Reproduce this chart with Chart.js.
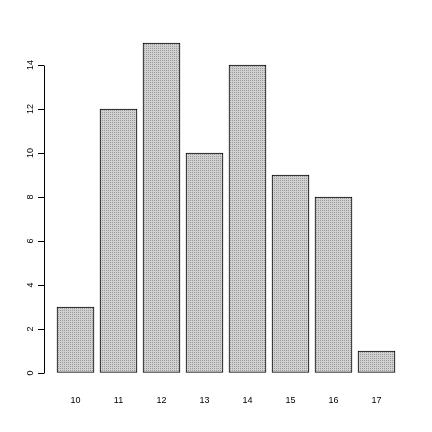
<!DOCTYPE html>
<html>
<head>
<meta charset="utf-8">
<script src="https://cdn.jsdelivr.net/npm/chart.js@4.4.0/dist/chart.umd.min.js"></script>
<style>
  html, body { margin: 0; padding: 0; background: #ffffff; }
  #wrap { width: 432px; height: 432px; }
</style>
</head>
<body>
<div id="wrap"><canvas id="counts" width="432" height="432"></canvas></div>
<script>
var categories = [10, 11, 12, 13, 14, 15, 16, 17];
var counts = [3, 12, 15, 10, 14, 9, 8, 1];
var yTicks = [0, 2, 4, 6, 8, 10, 12, 14];

var barplot = {
    // grey dotted fill like the R device
    pattern: function () {
        var c = document.createElement("canvas");
        c.width = 2;
        c.height = 2;
        var ctx = c.getContext("2d");
        ctx.fillStyle = "#d0d0d0";
        ctx.fillRect(0, 0, 2, 2);
        ctx.fillStyle = "#9c9c9c";
        ctx.fillRect(0, 0, 1, 1);
        return ctx.createPattern(c, "repeat");
    },

    // R style axis line: only from first to last tick
    axisLine: {
        id: "axisLine",
        afterDatasetsDraw: function (chart) {
            var y = chart.scales.y;
            var ctx = chart.ctx;
            var x = Math.round(y.right) + 0.5;
            ctx.save();
            ctx.strokeStyle = "#000000";
            ctx.lineWidth = 1;
            ctx.beginPath();
            ctx.moveTo(x, y.getPixelForValue(yTicks[0]) + 0.5);
            ctx.lineTo(x, y.getPixelForValue(yTicks[yTicks.length - 1]) + 0.5);
            ctx.stroke();
            ctx.restore();
        },
    },

    ChartData: function (el) {
        var points = categories.map(function (c, i) {
            return { x: c, y: counts[i] };
        });
        var font = { family: "'Liberation Sans', Arial, sans-serif", size: 9 };
        new Chart(el, {
            type: "bar",
            data: {
                datasets: [
                    {
                        data: points,
                        backgroundColor: barplot.pattern(),
                        borderColor: "#000000",
                        borderWidth: 1,
                        borderSkipped: false,
                        barThickness: 37,
                    },
                ],
            },
            options: {
                responsive: false,
                animation: false,
                events: [],
                layout: { padding: { top: 30, right: 24, left: 0, bottom: 0 } },
                plugins: { legend: { display: false }, tooltip: { enabled: false } },
                scales: {
                    x: {
                        type: "linear",
                        min: 10 - 31.5 / 43,
                        max: 10 - 31.5 / 43 + 364 / 43,
                        offset: false,
                        grid: { display: false },
                        border: { display: false },
                        ticks: { color: "#000000", font: font, padding: 1, autoSkip: false },
                        afterBuildTicks: function (s) {
                            s.ticks = categories.map(function (v) { return { value: v }; });
                        },
                        afterFit: function (s) { s.height = 46; },
                    },
                    y: {
                        min: -13 / 22,
                        max: -13 / 22 + 356 / 22,
                        grid: {
                            drawOnChartArea: false,
                            drawTicks: true,
                            tickLength: 6,
                            color: "#000000",
                        },
                        border: { display: false },
                        ticks: {
                            color: "#000000",
                            font: font,
                            padding: 2,
                            minRotation: 90,
                            maxRotation: 90,
                            crossAlign: "center",
                        },
                        afterBuildTicks: function (s) {
                            s.ticks = yTicks.map(function (v) { return { value: v }; });
                        },
                        afterFit: function (s) { s.width = 44; },
                    },
                },
            },
            plugins: [barplot.axisLine],
        });
    },
};

barplot.ChartData(document.getElementById("counts"));
</script>
</body>
</html>
